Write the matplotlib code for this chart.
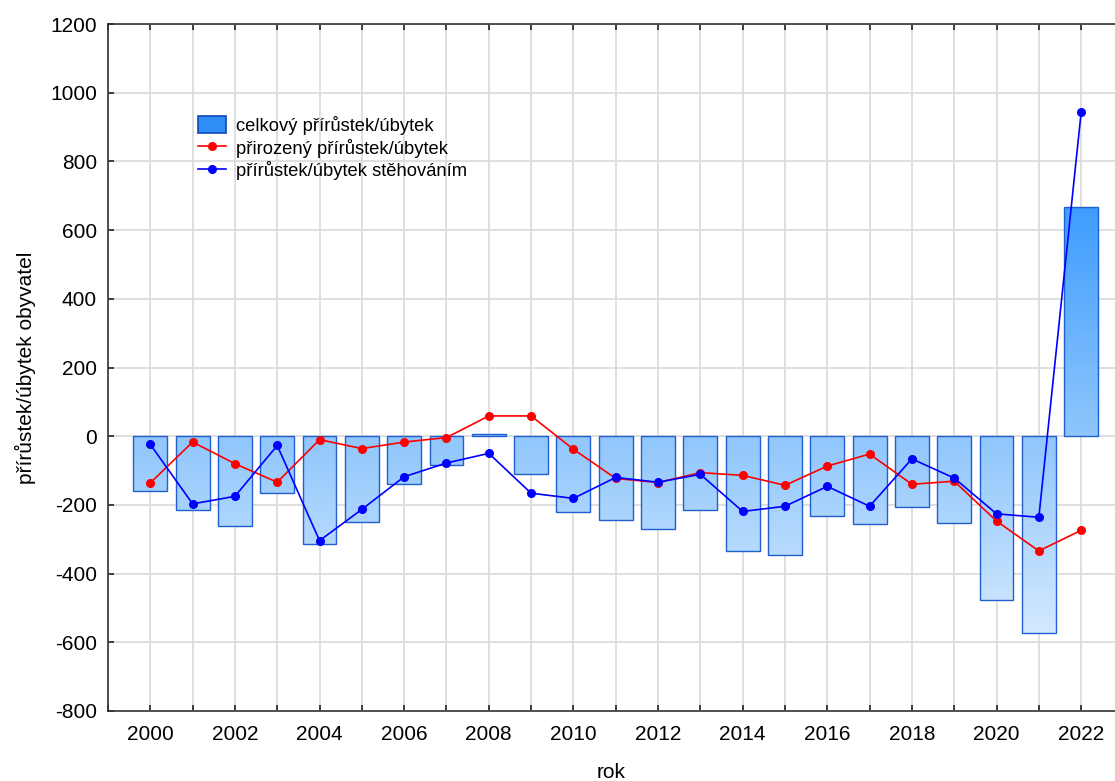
import numpy as np
import matplotlib
matplotlib.use('Agg')
import matplotlib.pyplot as plt
from matplotlib.colors import LinearSegmentedColormap
from matplotlib.patches import Rectangle
from matplotlib.lines import Line2D
from matplotlib.ticker import MultipleLocator

plt.rcParams['font.family'] = ['Liberation Sans', 'DejaVu Sans']
plt.rcParams['axes.unicode_minus'] = False

years = list(range(2000, 2023))
celkovy = [-160, -215, -260, -164, -315, -249, -138, -84, 7, -111, -222, -245,
           -271, -216, -333, -347, -233, -257, -207, -254, -476, -572, 668]
prirozeny = [-136, -17, -80, -134, -10, -36, -17, -4, 59, 59, -38, -123,
             -135, -106, -114, -143, -87, -52, -140, -131, -247, -334, -274]
stehovanim = [-24, -197, -175, -27, -304, -213, -118, -78, -50, -166, -181, -120,
              -134, -111, -219, -204, -146, -204, -66, -122, -226, -236, 943]

fig = plt.figure(figsize=(11.15, 7.81), dpi=100)
ax = fig.add_axes([108 / 1115, 1 - 711 / 781, 1 - 108 / 1115, 687 / 781])

ymin, ymax = -800, 1200
xmin, xmax = 1999.0, 2022.8
ax.set_xlim(xmin, xmax)
ax.set_ylim(ymin, ymax)

# gradient over y, darker upward
cmap = LinearSegmentedColormap.from_list(
    'g', [(0.0, '#d6eaff'), (0.3, '#8fc6fc'), (0.6, '#3a9bff'), (1.0, '#3a9bff')])
grad_vals = np.interp(np.linspace(ymin, ymax, 400), [-600, 0, 700], [0.0, 0.3, 0.6])
grad_img = grad_vals.reshape(-1, 1)

bw = 0.8
for x, v in zip(years, celkovy):
    rect = Rectangle((x - bw / 2, min(0, v)), bw, abs(v), facecolor='none',
                     edgecolor='#1f5fcf', linewidth=1.0, zorder=3)
    ax.add_patch(rect)
    im = ax.imshow(grad_img, cmap=cmap, vmin=0, vmax=1, aspect='auto', origin='lower',
                   extent=[xmin, xmax, ymin, ymax], zorder=2, interpolation='bilinear')
    im.set_clip_path(rect)

ax.plot(years, prirozeny, color='#ff0000', lw=1.2, marker='o', ms=5.5, zorder=4)
ax.plot(years, stehovanim, color='#0000ff', lw=1.2, marker='o', ms=5.5, zorder=5)

ax.xaxis.set_major_locator(MultipleLocator(2))
ax.xaxis.set_minor_locator(MultipleLocator(1))
ax.yaxis.set_major_locator(MultipleLocator(200))
ax.grid(True, which='both', axis='x', color='#dcdcdc', lw=1.3, zorder=0)
ax.grid(True, which='major', axis='y', color='#dcdcdc', lw=1.3, zorder=0)
ax.set_axisbelow(True)
ax.tick_params(which='both', direction='in', length=4, width=1.2, color='#222222',
               labelsize=15, pad=10, top=True)
ax.tick_params(axis='y', pad=8)
for s in ['left', 'bottom', 'top']:
    ax.spines[s].set_color('#333333')
    ax.spines[s].set_linewidth(1.2)
ax.spines['right'].set_visible(False)

ax.set_xlabel('rok', fontsize=15, labelpad=14)
ax.set_ylabel('přírůstek/úbytek obyvatel', fontsize=15, labelpad=10)

handles = [
    Rectangle((0, 0), 1, 1, facecolor='#2f8ef5', edgecolor='#1048b8', lw=1.2),
    Line2D([], [], color='#ff0000', lw=1.2, marker='o', ms=5.5),
    Line2D([], [], color='#0000ff', lw=1.2, marker='o', ms=5.5),
]
labels = ['celkový přírůstek/úbytek', 'přirozený přírůstek/úbytek',
          'přírůstek/úbytek stěhováním']
ax.legend(handles, labels, loc='upper left', bbox_to_anchor=(0.082, 0.877),
          frameon=False, fontsize=13.2, handlelength=1.55, handleheight=1.1,
          handletextpad=0.55, labelspacing=0.2, borderaxespad=0)

fig.savefig('out.png', dpi=100)
